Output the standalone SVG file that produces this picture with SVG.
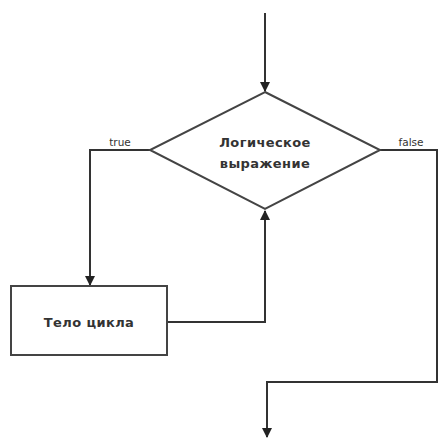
<svg xmlns="http://www.w3.org/2000/svg" width="440" height="439" viewBox="0 0 440 439">
<defs>
<marker id="arr" markerWidth="10" markerHeight="10" refX="9" refY="5" orient="auto" markerUnits="userSpaceOnUse">
<path d="M0,0 L10,5 L0,10 Z" fill="#222"/>
</marker>
<style>
.shape{fill:#fff;stroke:#444;stroke-width:2}
.conn{fill:none;stroke:#333;stroke-width:2}
.t{font-family:"DejaVu Sans",sans-serif;fill:#333;text-anchor:middle}
.main{font-size:13px;font-weight:bold;letter-spacing:0.4px}
.lbl{font-size:10.5px}
</style>
</defs>
<rect width="440" height="439" fill="#fff"/>
<g id="connectors">
<path class="conn" d="M265,13 L265,91" marker-end="url(#arr)"/>
<path class="conn" d="M150,150 L90,150 L90,285" marker-end="url(#arr)"/>
<path class="conn" d="M167,322 L265,322 L265,211" marker-end="url(#arr)"/>
<path class="conn" d="M380,150 L437,150 L437,382 L267,382 L267,437" marker-end="url(#arr)"/>
<text class="t lbl" x="120" y="146">true</text>
<text class="t lbl" x="411" y="146">false</text>
</g>
<g id="decision">
<polygon class="shape" points="265,92 380,150 265,209 150,150"/>
<text class="t main" x="265" y="147">Логическое</text>
<text class="t main" x="265" y="168">выражение</text>
</g>
<g id="body">
<rect class="shape" x="11" y="286" width="156" height="69"/>
<text class="t main" x="89" y="327">Тело цикла</text>
</g>
</svg>
